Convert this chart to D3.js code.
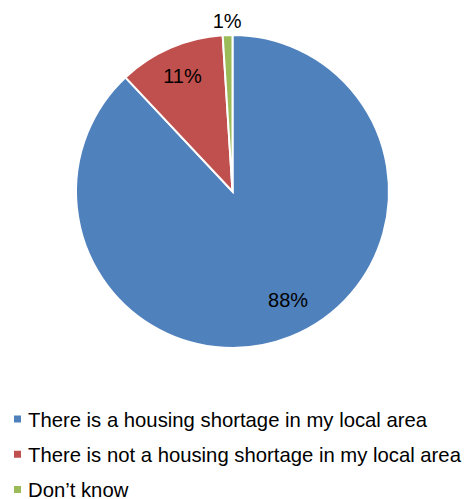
<!DOCTYPE html>
<html>
<head>
<meta charset="utf-8">
<script src="https://cdn.jsdelivr.net/npm/d3@7"></script>
<style>
  html, body { margin: 0; padding: 0; background: #fff; }
  svg { display: block; }
  text { font-family: "Liberation Sans", Arial, sans-serif; fill: #000; }
</style>
</head>
<body>
<svg id="chart" width="464" height="499"></svg>
<script>
// Survey answers: is there a housing shortage in the local area?
const categories = [
  "There is a housing shortage in my local area",
  "There is not a housing shortage in my local area",
  "Don\u2019t know"
];
const shares = [88, 11, 1];
const valueLabels = ["88%", "11%", "1%"];
const colors = ["#4F81BD", "#C0504D", "#9BBB59"];

// Label placement: distance from centre and angular nudge (degrees)
const labelPlacement = [
  { radius: 122, nudge: -5.5 },
  { radius: 126, nudge: 0 },
  { radius: 171, nudge: 0 }
];

const svg = d3.select("#chart");
const cx = 232.5, cy = 191.5, r = 156.5;

const pie = d3.pie().sort(null).value(d => d.value);
const data = categories.map((c, i) => ({ name: c, value: shares[i], label: valueLabels[i], i }));
const arcs = pie(data);

const arc = d3.arc().innerRadius(0).outerRadius(r);

const g = svg.append("g").attr("transform", `translate(${cx},${cy})`);

g.selectAll("path.slice")
  .data(arcs)
  .join("path")
  .attr("class", "slice")
  .attr("d", arc)
  .attr("fill", d => colors[d.data.i])
  .attr("stroke", "#fff")
  .attr("stroke-width", 2)
  .attr("stroke-linejoin", "miter");

g.selectAll("text.value")
  .data(arcs)
  .join("text")
  .attr("class", "value")
  .attr("transform", d => {
    const p = labelPlacement[d.data.i];
    const mid = (d.startAngle + d.endAngle) / 2 + p.nudge * Math.PI / 180;
    const x = Math.sin(mid) * p.radius;
    const y = -Math.cos(mid) * p.radius;
    return `translate(${x},${y})`;
  })
  .attr("text-anchor", "middle")
  .attr("dy", "0.35em")
  .style("font-size", "20px")
  .text(d => d.data.label);

// Legend
const legendY = d3.scalePoint().domain(categories).range([426.5, 497]);
const legend = svg.append("g");
const items = legend.selectAll("g")
  .data(data)
  .join("g")
  .attr("transform", d => `translate(0,${legendY(d.name)})`);

items.append("rect")
  .attr("x", 14)
  .attr("y", -11)
  .attr("width", 7)
  .attr("height", 7)
  .attr("fill", d => colors[d.i]);

items.append("text")
  .attr("x", 28)
  .attr("y", 0)
  .style("font-size", "20.3px")
  .text(d => d.name);
</script>
</body>
</html>
